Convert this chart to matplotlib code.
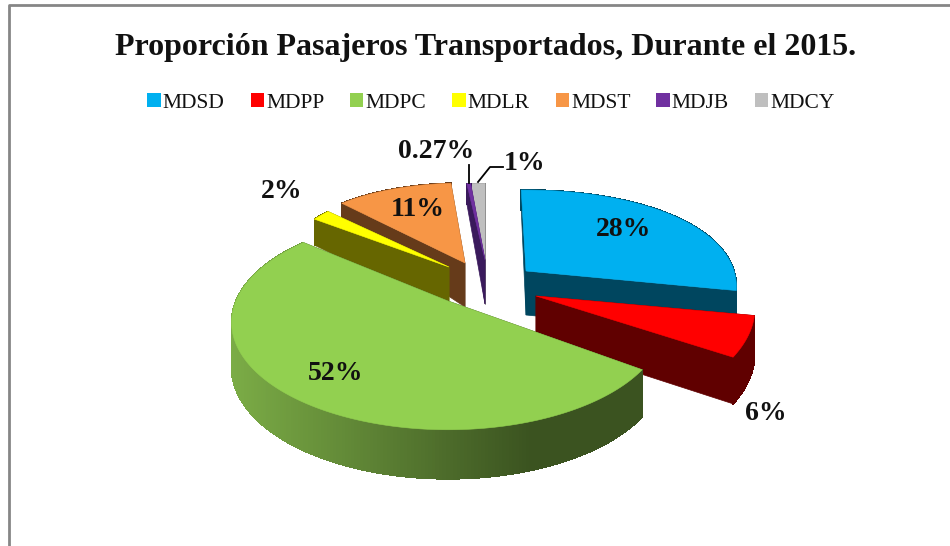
import numpy as np
import matplotlib
matplotlib.use("Agg")
import matplotlib.pyplot as plt
from matplotlib.patches import Patch
from matplotlib.collections import PolyCollection
from matplotlib.colors import to_rgb

categories = ["MDSD", "MDPP", "MDPC", "MDLR", "MDST", "MDJB", "MDCY"]
values = [28, 6, 52, 2, 11, 0.27, 1]
labels = ["28%", "6%", "52%", "2%", "11%", "0.27%", "1%"]
top_colors = ["#00B0F0", "#FF0000", "#92D050", "#FFFF00", "#F79646", "#7030A0", "#BFBFBF"]
wall_colors = ["#00465F", "#600000", "#3B5320", "#666600", "#663B1A", "#3A1A5C", "#808080"]

# per-slice view geometry: tip x, tip y, fx, kx, gy, ky, shift at start, shift at end (deg)
view = {
    "MDSD": (526, 271, 208, 0.15, 102, 0.26, -1.5, 0),
    "MDPP": (536, 296, 217, 0.126, 103, 0.2, 0, 0),
    "MDPC": (448, 301, 212, 0.2, 103, 0.2, 4, 1),
    "MDLR": (449, 267, 168, 0.0, 80, 0.0, -2, -2),
    "MDST": (465, 263, 177, 0.0, 92, 0.15, 0, 0),
    "MDJB": (485, 260, 229, 0.0, 88, 0.15, 0, 0),
    "MDCY": (485, 260, 229, 0.0, 88, 0.15, 0, 0),
}
label_pos = {"MDSD": (624, 230), "MDPP": (766, 414), "MDPC": (336, 374), "MDLR": (282, 192),
             "MDST": (418, 210), "MDJB": (436, 152), "MDCY": (525, 163)}
draw_order = ["MDCY", "MDJB", "MDST", "MDLR", "MDSD", "MDPP", "MDPC"]

plt.rcParams["font.family"] = ["Liberation Serif", "DejaVu Serif"]
fig = plt.figure(figsize=(9.5, 5.46), dpi=100)
ax = fig.add_axes([0, 0, 1, 1])
ax.set_xlim(0, 950)
ax.set_ylim(546, 0)
ax.axis("off")


def depth(y):
    return np.where(y > 0, np.maximum(20, 44 - 30 * y), 44 - 5 * y)


def project(v, theta, r=1.0):
    cx, cy, f, kx, g, ky = v[:6]
    t = np.radians(theta)
    xs, ys = r * np.sin(t), r * np.cos(t)
    return cx + f * xs / (1 + kx * ys), cy - g * ys / (1 + ky * ys), ys


total = sum(values)
edges = np.concatenate([[0], np.cumsum(values)]) / total * 360
spans = {c: (edges[i], edges[i + 1]) for i, c in enumerate(categories)}
idx = {c: i for i, c in enumerate(categories)}

for c in draw_order:
    v = view[c]
    t0, t1 = spans[c]
    t0, t1 = t0 + v[6], t1 + v[7]
    th = np.linspace(t0, t1, 240)
    ax_, ay_, y_ = project(v, th)
    dp = depth(y_)
    top = top_colors[idx[c]]
    wall = wall_colors[idx[c]]
    tx, ty = v[0], v[1]
    tipd = float(depth(np.array(0.0)))
    # radial cut faces
    for k in (0, -1):
        ax.fill([tx, ax_[k], ax_[k], tx], [ty, ay_[k], ay_[k] + dp[k], ty + tipd],
                color=wall, lw=0.5, zorder=1)
    # outer curved wall, in strips so that the shade can change along it
    strips = [[(ax_[i], ay_[i]), (ax_[i + 1], ay_[i + 1]),
               (ax_[i + 1], ay_[i + 1] + dp[i + 1]), (ax_[i], ay_[i] + dp[i])]
              for i in range(len(th) - 1)]
    if c == "MDPC":
        a = np.array(to_rgb("#7BAC46"))
        b = np.array(to_rgb("#3B5320"))
        cols = []
        for s in strips:
            m = np.clip((s[0][0] - 232) / (530 - 232), 0, 1)
            cols.append(tuple(a + (b - a) * m))
    else:
        cols = [to_rgb(wall)] * len(strips)
    ax.add_collection(PolyCollection(strips, facecolors=cols, edgecolors=cols, linewidths=0.6,
                                     antialiaseds=False, zorder=1))
    ax.fill(np.r_[tx, ax_], np.r_[ty, ay_], color=top, lw=0.4, zorder=1)

for c in categories:
    x, y = label_pos[c]
    ax.text(x, y, labels[idx[c]], ha="center", va="center", fontsize=20, fontweight="bold",
            color="#111111", zorder=5)

# leader lines
ax.plot([469, 469], [165, 183], color="black", lw=1.3, zorder=4)
ax.plot([478, 490, 503], [182, 167, 167], color="black", lw=1.3, zorder=4)

ax.text(486, 47, "Proporción Pasajeros Transportados, Durante el 2015.", ha="center", va="center",
        fontsize=23, fontweight="bold", color="#111111")

handles = [Patch(facecolor=col, edgecolor="none") for col in top_colors]
ax.legend(handles, categories, ncols=7, loc="center", bbox_to_anchor=(491 / 950, 1 - 103 / 546),
          frameon=False, fontsize=15.5, handlelength=0.62, handleheight=0.62, handletextpad=0.1,
          columnspacing=1.2, labelcolor="#111111")

# chart frame
ax.plot([9, 9, 950], [546, 4.5, 4.5], color="#868686", lw=2, zorder=6)

fig.savefig("out.png", dpi=100)
